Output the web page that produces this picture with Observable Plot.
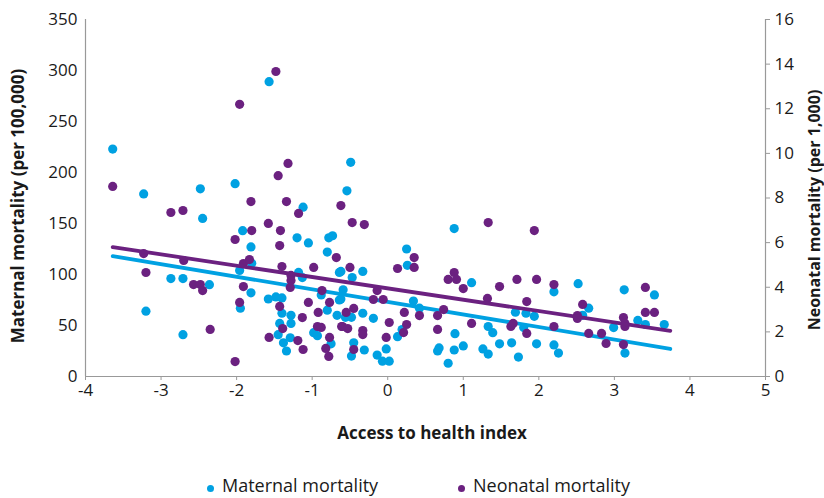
<!DOCTYPE html>
<html><head><meta charset="utf-8">
<script src="https://cdn.jsdelivr.net/npm/d3@7"></script>
<script src="https://cdn.jsdelivr.net/npm/@observablehq/plot@0.6"></script>
<style>
html,body{margin:0;padding:0;background:#fff;}
body{font-family:"Open Sans",sans-serif;color:#222;width:824px;height:498px;overflow:hidden;position:relative;}
#legend{position:absolute;left:0;top:460px;width:824px;height:38px;}
.lab{position:absolute;top:15px;font-size:18px;line-height:20px;white-space:nowrap;color:#1a1a1a;}
.dot{position:absolute;width:7px;height:7px;border-radius:50%;top:25px;}
</style></head><body>
<div id="chart"></div>
<div id="legend"></div>
<script>
// Access to health index (x) and maternal mortality per 100,000
const matX = [-3.64,-3.23,-3.20,-2.87,-2.71,-2.71,-2.48,-2.45,-2.36,-2.02,
 -1.96,-1.95,-1.92,-1.81,-1.80,-1.81,-1.58,-1.48,-1.40,-1.40,
 -1.43,-1.45,-1.38,-1.34,-1.28,-1.28,-1.29,-1.20,-1.18,-1.13,
 -1.12,-1.05,-0.98,-0.93,-0.88,-0.80,-0.80,-0.78,-0.73,-0.75,
 -0.67,-0.64,-0.64,
 -0.54,-0.49,-1.57,-0.62,-0.47,-0.33,-0.59,-0.62,-0.48,-0.56,
 -0.33,-0.19,-0.45,-0.48,-0.31,-0.14,-0.07,0.02,-0.02,0.13,
 0.19,0.25,0.26,0.34,0.42,0.68,0.66,0.80,0.89,0.88,
 0.88,1.00,1.11,1.26,1.33,1.33,1.39,1.48,1.64,1.69,
 1.73,1.83,1.80,1.94,1.97,2.20,2.20,2.26,2.52,2.58,
 2.66,2.99,3.13,3.14,3.31,3.41,3.53,3.66];
const matY = [223,179,64,96,96,41,184,155,90,189,
 104,67,143,127,111,82,76,78,77,62,
 52,41,33,25,60,52,38,136,102,97,
 166,131,43,40,80,65,122,136,138,32,
 60,102,75,
 182,210,289,103,97,103,85,76,58,58,
 62,57,33,20,26,21,15,15,27,39,
 46,125,109,74,67,28,25,13,42,26,
 145,30,92,27,22,49,43,32,33,63,
 19,62,48,59,32,83,31,23,91,60,
 67,48,85,23,55,51,80,51];

// Access to health index (x) and neonatal mortality per 1,000
const neoX = [-3.64,-3.23,-3.20,-2.87,-2.71,-2.70,-2.57,-2.48,-2.45,-2.35,
 -2.02,-2.02,-1.96,-1.96,-1.91,-1.91,-1.83,-1.81,-1.80,-1.58,
 -1.57,-1.48,-1.45,-1.32,-1.42,-1.43,-1.40,-1.43,-1.39,-1.34,
 -1.28,-1.28,-1.29,-1.18,-1.19,-1.13,-1.12,-1.05,-0.98,-0.92,
 -0.93,-0.88,-0.87,-0.77,-0.82,-0.78,-0.77,-0.68,-0.62,-0.61,
 -0.47,-0.31,-0.50,-0.55,-0.45,-0.60,-0.53,-0.33,-0.33,-0.45,
 -0.19,-0.14,-0.06,0.02,-0.02,0.13,0.22,0.25,0.21,0.35,
 0.35,0.42,0.66,0.74,0.66,0.80,0.88,0.91,1.00,1.11,
 1.32,1.33,1.48,1.63,1.66,1.71,1.84,1.84,1.94,1.97,
 2.20,2.20,2.51,2.51,2.58,2.66,2.83,2.89,3.12,3.14,
 3.14,3.12,3.41,3.41,3.53];
const neoY = [8.52,5.51,4.66,7.35,7.44,5.20,4.12,4.12,3.85,2.11,
 6.14,0.67,12.2,3.32,4.03,5.06,5.24,7.84,6.54,6.86,
 1.75,13.67,9.0,9.55,6.54,5.87,4.93,3.14,2.15,7.84,
 4.53,4.30,3.99,7.31,1.61,2.64,1.21,3.32,4.89,2.87,
 2.24,2.20,3.85,3.32,1.26,0.90,1.75,5.33,7.66,2.24,
 6.90,6.81,4.89,2.87,3.05,2.24,2.15,2.06,1.88,1.21,
 3.45,3.85,3.45,2.42,1.75,4.84,2.87,2.33,1.97,5.33,
 4.89,2.73,2.73,3.0,2.11,4.35,4.66,4.35,3.94,2.38,
 3.50,6.90,4.03,2.24,2.38,4.35,3.36,1.93,6.54,4.35,
 4.12,2.24,2.73,2.60,3.23,1.93,1.93,1.48,2.64,2.38,
 2.24,1.43,3.99,2.87,2.87];

// Linear trend lines
const trendX = [-3.64, 3.74];
const matTrend = [118, 27];
const neoTrend = [5.8, 2.05];

const xTicks = [-4,-3,-2,-1,0,1,2,3,4,5];
const matTicks = [0,50,100,150,200,250,300,350];
const neoTicks = [0,2,4,6,8,10,12,14,16];

const seriesNames = ["Maternal mortality","Neonatal mortality"];
const colors = ["#00a1e2","#6b2180"];

const K = 350/16;
const maternal = matX.map((x,i)=>({x, y: matY[i]}));
const neonatal = neoX.map((x,i)=>({x, y: neoY[i]*K}));
const trendM = trendX.map((x,i)=>({x, y: matTrend[i]}));
const trendN = trendX.map((x,i)=>({x, y: neoTrend[i]*K}));

const font = '"Open Sans", sans-serif';
const plot = Plot.plot({
  width: 824, height: 460,
  marginLeft: 85, marginRight: 59, marginTop: 19, marginBottom: 84,
  style: {fontFamily: font, fontSize: "17px", color: "#1a1a1a", background: "#fff", overflow: "visible"},
  x: {domain: [-4, 5]},
  y: {domain: [0, 350]},
  marks: [
    Plot.axisX({ticks: xTicks, tickSize: 4, tickPadding: 3, stroke: "#999", tickFormat: d => String(d), label: null}),
    Plot.axisY({ticks: matTicks, tickSize: 0, tickPadding: 8, tickFormat: d => String(d), label: null}),
    Plot.axisY({anchor: "right", ticks: neoTicks.map(d => d*K), tickSize: 4, tickPadding: 5, stroke: "#999", tickFormat: d => String(Math.round(d/K)), label: null}),
    Plot.ruleY([0], {stroke: "#999", strokeWidth: 1.2}),
    Plot.ruleX([-4], {stroke: "#999", strokeWidth: 1.2}),
    Plot.ruleX([5], {stroke: "#999", strokeWidth: 1.2}),
    Plot.dot(maternal, {x: "x", y: "y", r: 4.6, fill: colors[0], stroke: "none"}),
    Plot.line(trendM, {x: "x", y: "y", stroke: colors[0], strokeWidth: 3.8}),
    Plot.dot(neonatal, {x: "x", y: "y", r: 4.6, fill: colors[1], stroke: "none"}),
    Plot.line(trendN, {x: "x", y: "y", stroke: colors[1], strokeWidth: 3.8})
  ]
});
document.getElementById("chart").appendChild(plot);

const svg = d3.select(plot);
svg.append("text").attr("x", 432).attr("y", 439).attr("text-anchor", "middle")
  .attr("font-family", font).attr("font-size", 17).attr("font-weight", "bold").attr("fill", "#1a1a1a")
  .text("Access to health index");
svg.append("text").attr("transform", "translate(24,206) rotate(-90)").attr("text-anchor", "middle")
  .attr("font-family", font).attr("font-size", 17).attr("font-weight", "bold").attr("fill", "#1a1a1a")
  .text("Maternal mortality (per 100,000)");
svg.append("text").attr("transform", "translate(820,210) rotate(-90)").attr("text-anchor", "middle")
  .attr("font-family", font).attr("font-size", 16).attr("font-weight", "bold").attr("fill", "#1a1a1a")
  .text("Neonatal mortality (per 1,000)");

const legend = d3.select("#legend");
const lx = [207, 458];
seriesNames.forEach((n, i) => {
  legend.append("div").attr("class", "dot").style("left", lx[i] + "px").style("background", colors[i]);
  legend.append("div").attr("class", "lab").style("left", (lx[i] + 15) + "px").text(n);
});
</script>
</body></html>
